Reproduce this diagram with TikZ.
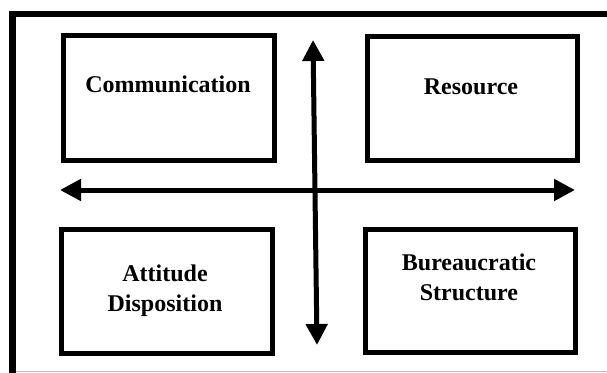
\documentclass[tikz,border=0pt]{standalone}
\usepackage{fontspec}
\setmainfont{Liberation Serif}
\usetikzlibrary{arrows.meta}
\tikzset{
  box/.style={draw=black, line width=5pt, minimum width=#1, inner sep=0pt},
  lbl/.style={font=\fontsize{24}{30}\selectfont\bfseries, anchor=base, inner sep=0pt, align=center},
  bigarrow/.style={line width=5pt, {Triangle[length=21pt,width=21pt]}-{Triangle[length=21pt,width=21pt]}},
}
\begin{document}
\begin{tikzpicture}[x=1pt,y=-1pt]
\useasboundingbox (0,0) rectangle (607,372);
\fill[white] (0,0) rectangle (607,372);
% outer frame (cropped)
\draw[line width=6.5pt] (12.5,375) -- (12.5,14) -- (612,14);
\draw[line width=1pt, black!25] (15.5,371) -- (607,371);
% boxes
\node[box=211pt, minimum height=125pt] (comm) at (169,98) {};
\node[box=210pt, minimum height=124pt] (res) at (472.5,98.5) {};
\node[box=211pt, minimum height=124pt] (att) at (167,291.5) {};
\node[box=210pt, minimum height=123pt] (bur) at (470.5,291) {};
% labels
\node[lbl] (tcomm) at (168,92.5) {Communication};
\node[lbl] (tres) at (471,94) {Resource};
\node[lbl] (tatt1) at (165,281) {Attitude};
\node[lbl] (tatt2) at (165,311.5) {Disposition};
\node[lbl] (tbur1) at (469,270) {Bureaucratic};
\node[lbl] (tbur2) at (469,300.5) {Structure};
% arrows
\coordinate (hl) at (60,190);
\coordinate (hr) at (575,190);
\coordinate (vt) at (313,40);
\coordinate (vb) at (317,345);
\draw[bigarrow] (hl) -- (hr);
\draw[bigarrow] (vt) -- (vb);
\end{tikzpicture}
\end{document}
